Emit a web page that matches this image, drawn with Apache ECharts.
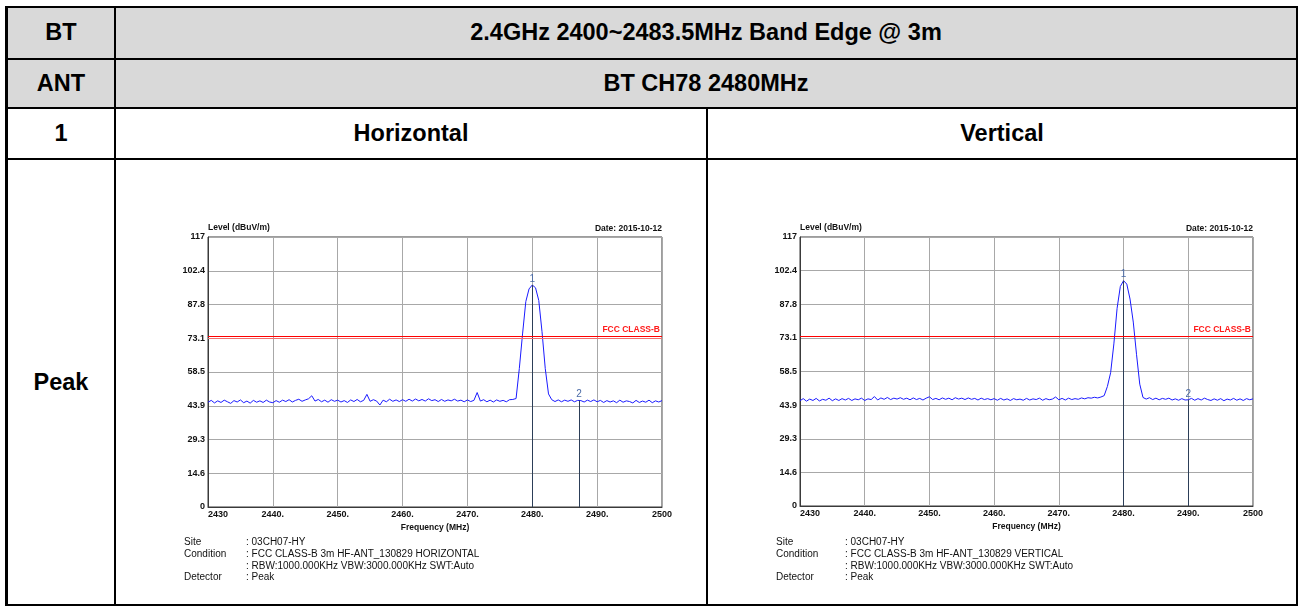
<!DOCTYPE html>
<html><head><meta charset="utf-8">
<script src="https://cdn.jsdelivr.net/npm/echarts@6/dist/echarts.min.js"></script>
<style>
html,body{margin:0;padding:0;background:#fff;width:1298px;height:606px;overflow:hidden;font-family:"Liberation Sans",Arial,sans-serif;}
.ln{position:absolute;background:#000;}
.fill{position:absolute;background:#d9d9d9;}
.t{position:absolute;transform:translate(-50%,-50%);font-weight:bold;font-size:23.5px;white-space:nowrap;color:#000;line-height:1;}
#chart{position:absolute;left:0;top:0;width:1298px;height:606px;}
</style></head><body>
<div class="fill" style="left:8px;top:8px;width:1288px;height:99px;"></div>
<div class="ln" style="left:5px;top:6px;width:1293px;height:2px;"></div>
<div class="ln" style="left:5px;top:58px;width:1293px;height:2px;"></div>
<div class="ln" style="left:5px;top:107px;width:1293px;height:2px;"></div>
<div class="ln" style="left:5px;top:158px;width:1293px;height:2px;"></div>
<div class="ln" style="left:5px;top:604px;width:1293px;height:2px;"></div>
<div class="ln" style="left:5px;top:6px;width:3px;height:600px;"></div>
<div class="ln" style="left:114px;top:6px;width:2px;height:600px;"></div>
<div class="ln" style="left:706px;top:107px;width:2px;height:499px;"></div>
<div class="ln" style="left:1296px;top:6px;width:2px;height:600px;"></div>
<div class="t" style="left:61px;top:33px;">BT</div>
<div class="t" style="left:706px;top:33px;">2.4GHz 2400~2483.5MHz Band Edge @ 3m</div>
<div class="t" style="left:61px;top:84px;">ANT</div>
<div class="t" style="left:706px;top:84px;">BT CH78 2480MHz</div>
<div class="t" style="left:61px;top:134px;">1</div>
<div class="t" style="left:411px;top:134px;">Horizontal</div>
<div class="t" style="left:1002px;top:134px;">Vertical</div>
<div class="t" style="left:61px;top:383px;">Peak</div>
<div id="chart"></div>
<script>
// ---- data ----
const freqStart = 2430;
const freqStep = 0.5;
const xTickValues = [2430, 2440, 2450, 2460, 2470, 2480, 2490, 2500];
const xTickLabels = ["2430", "2440.", "2450.", "2460.", "2470.", "2480.", "2490.", "2500"];
const yTickLabels = ["0", "14.6", "29.3", "43.9", "58.5", "73.1", "87.8", "102.4", "117"];
const levelsH = [
 45.4,46.2,45.1,46.0,45.3,46.3,45.6,44.9,46.1,45.5,46.4,45.2,45.9,45.0,46.2,45.4,46.0,45.3,46.3,45.5,
 45.2,46.1,45.4,46.3,45.7,46.5,45.5,46.2,46.7,45.8,46.4,46.9,48.2,45.9,46.6,45.6,46.3,45.4,46.5,45.8,
 46.3,45.5,46.1,45.3,46.4,45.7,46.6,45.6,46.2,48.8,45.8,46.5,45.9,44.2,46.3,45.6,46.7,45.8,46.4,45.7,
 46.5,45.8,46.7,45.9,46.8,46.0,46.6,45.9,46.9,46.1,46.5,45.7,46.6,45.8,46.4,46.0,46.7,45.9,46.3,45.6,
 46.4,45.7,46.2,49.6,45.9,46.5,45.6,46.3,45.5,46.4,45.8,46.2,45.6,46.5,46.6,47.0,60.0,75.0,89.0,94.5,
 96.2,95.0,89.5,76.0,60.0,49.0,46.5,45.7,46.4,45.6,46.3,45.8,46.4,45.6,46.2,46.1,45.5,46.3,45.7,46.4,
 45.6,46.2,45.3,46.1,45.5,46.0,45.2,46.3,45.4,46.0,45.7,45.1,46.2,45.3,45.9,45.4,46.3,45.2,46.0,45.5,46.1
];
const levelsV = [
 45.8,46.7,45.6,46.5,45.9,46.8,45.7,46.4,46.0,46.9,45.8,46.6,45.9,46.7,46.1,46.8,45.9,46.6,46.2,46.9,
 45.9,46.6,46.3,47.6,46.1,47.0,46.4,47.2,46.3,46.9,46.5,47.1,46.4,46.9,46.2,47.0,46.3,46.8,46.1,46.9,
 47.5,46.3,46.8,46.2,47.0,46.4,46.9,46.2,47.1,46.5,46.9,46.3,47.0,46.4,46.8,46.1,46.9,46.3,46.7,46.2,
 46.7,46.0,46.8,46.1,46.6,45.9,46.7,46.2,46.5,46.0,46.8,46.1,46.6,46.3,46.9,46.0,46.7,46.2,46.5,47.4,
 46.2,46.8,46.1,46.9,46.3,46.7,46.4,47.0,46.6,47.1,46.9,47.3,47.0,47.4,48.0,52.0,58.0,70.5,86.0,95.5,
 98.0,96.5,90.0,80.0,66.0,53.0,47.2,46.5,47.1,46.3,46.9,46.2,46.8,46.4,46.9,46.1,46.6,46.0,46.7,46.1,
 46.2,46.8,46.0,46.7,46.1,46.9,46.3,45.9,46.6,46.0,46.7,45.8,46.5,46.1,46.8,46.0,46.6,45.9,46.7,46.2,46.6
];
const markerFreqH = [2480, 2487.2];
const markerLevelH = [96.2, 46.1];
const markerFreqV = [2480, 2490];
const markerLevelV = [98.0, 46.2];
const markerNames = ["1", "2"];
const limitH = [74, 73.2];
const limitV = [74];
const limitName = "FCC CLASS-B";
const footerKeys = ["Site", "Condition", "", "Detector"];
const footerH = [": 03CH07-HY", ": FCC CLASS-B 3m HF-ANT_130829 HORIZONTAL", ": RBW:1000.000KHz VBW:3000.000KHz SWT:Auto", ": Peak"];
const footerV = [": 03CH07-HY", ": FCC CLASS-B 3m HF-ANT_130829 VERTICAL", ": RBW:1000.000KHz VBW:3000.000KHz SWT:Auto", ": Peak"];
const dateText = "Date: 2015-10-12";

// ---- build ----
const FONT = '"Liberation Sans", Arial, sans-serif';
const yInterval = 117 / 8;
function xAxisCfg(i) {
  return {
    gridIndex: i, type: 'value', min: 2430, max: 2500, interval: 10,
    name: 'Frequency (MHz)', nameLocation: 'middle', nameGap: 16,
    nameTextStyle: { fontFamily: FONT, fontWeight: 'bold', fontSize: 8.5, color: '#111' },
    axisLine: { show: true, lineStyle: { color: '#3a3a3a', width: 1 } },
    axisTick: { show: false },
    axisLabel: {
      margin: 3, fontFamily: FONT, fontWeight: 'bold', fontSize: 9, color: '#111',
      alignMinLabel: 'left', showMinLabel: true, showMaxLabel: true,
      formatter: v => { const k = xTickValues.indexOf(Math.round(v)); return k >= 0 ? xTickLabels[k] : ''; }
    },
    splitLine: { show: true, lineStyle: { color: '#a8a8a8', width: 1 } }
  };
}
function yAxisCfg(i) {
  return {
    gridIndex: i, type: 'value', min: 0, max: 117, interval: yInterval,
    name: 'Level (dBuV/m)', nameLocation: 'end', nameGap: 3,
    nameTextStyle: { fontFamily: FONT, fontWeight: 'bold', fontSize: 8.5, color: '#111', align: 'left', verticalAlign: 'bottom' },
    axisLine: { show: true, lineStyle: { color: '#3a3a3a', width: 1 } },
    axisTick: { show: false },
    axisLabel: {
      margin: 3, fontFamily: FONT, fontWeight: 'bold', fontSize: 9, color: '#111',
      showMinLabel: true, showMaxLabel: true,
      formatter: v => yTickLabels[Math.round(v / yInterval)] || ''
    },
    splitLine: { show: true, lineStyle: { color: '#a8a8a8', width: 1 } }
  };
}
function traceSeries(i, levels, mf, ml, limits) {
  const markers = mf.map((f, k) => [
    { coord: [f, ml[k]], name: markerNames[k] },
    { coord: [f, 0] }
  ]);
  const lim = limits.map((y, k) => ({
    yAxis: y,
    lineStyle: { color: k === 0 ? '#ff0000' : '#f07070', width: 1, type: 'solid' },
    label: k === 0 ? { show: true, formatter: limitName, position: 'insideEndTop', distance: 2,
      color: '#ff1a1a', fontFamily: FONT, fontWeight: 'bold', fontSize: 8.5 } : { show: false }
  }));
  return [{
    type: 'line', xAxisIndex: i, yAxisIndex: i, showSymbol: false, symbol: 'none',
    data: levels.map((v, k) => [freqStart + k * freqStep, v]),
    lineStyle: { color: '#1a1aff', width: 1 }, z: 3,
    markLine: {
      silent: true, symbol: 'none', animation: false,
      data: markers,
      lineStyle: { color: '#2c3e58', width: 1, type: 'solid' },
      label: { show: true, position: 'start', distance: 1, formatter: p => p.name,
        color: '#4a6aa6', fontFamily: FONT, fontSize: 10 }
    }
  }, {
    type: 'line', xAxisIndex: i, yAxisIndex: i, data: [], z: 2,
    markLine: { silent: true, symbol: 'none', animation: false, data: lim }
  }];
}
function footer(x1, x2, vals) {
  const els = [];
  const ys = [543, 555, 567, 578];
  footerKeys.forEach((k, j) => {
    if (k) els.push({ type: 'text', left: x1, top: ys[j] - 6, style: { text: k, font: '10px ' + FONT, fill: '#111' } });
    els.push({ type: 'text', left: x2, top: ys[j] - 6, style: { text: vals[j], font: '10px ' + FONT, fill: '#111' } });
  });
  return els;
}
const chart = echarts.init(document.getElementById('chart'), null, { renderer: 'canvas' });
chart.setOption({
  animation: false,
  backgroundColor: 'transparent',
  grid: [
    { left: 208, top: 237, width: 454, height: 270, show: true, borderColor: '#3a3a3a', borderWidth: 1, backgroundColor: 'transparent' },
    { left: 800, top: 237, width: 453, height: 269, show: true, borderColor: '#3a3a3a', borderWidth: 1, backgroundColor: 'transparent' }
  ],
  xAxis: [xAxisCfg(0), xAxisCfg(1)],
  yAxis: [yAxisCfg(0), yAxisCfg(1)],
  series: [].concat(
    traceSeries(0, levelsH, markerFreqH, markerLevelH, limitH),
    traceSeries(1, levelsV, markerFreqV, markerLevelV, limitV)
  ),
  graphic: [
    { type: 'text', right: 1298 - 662, top: 224, style: { text: dateText, font: 'bold 8.5px ' + FONT, fill: '#111' } },
    { type: 'text', right: 1298 - 1253, top: 224, style: { text: dateText, font: 'bold 8.5px ' + FONT, fill: '#111' } }
  ].concat(footer(184, 246, footerH), footer(776, 845, footerV))
});
</script>
</body></html>
